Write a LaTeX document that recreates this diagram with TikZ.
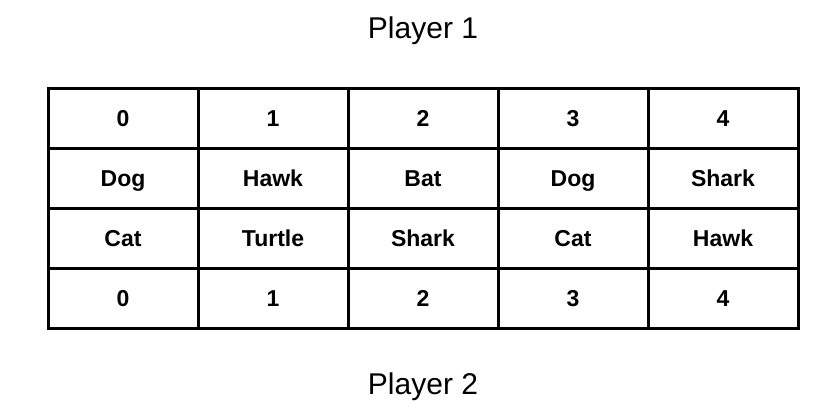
\documentclass[tikz,border=0pt]{standalone}
\usepackage{fontspec}
\setmainfont{Liberation Sans}
\begin{document}
\begin{tikzpicture}[x=1pt,y=-1pt,
  title/.style={anchor=base,inner sep=0pt,font=\fontsize{30}{36}\selectfont},
  cell/.style={anchor=base,inner sep=0pt,font=\fontsize{23}{28}\selectfont\bfseries},
  grid/.style={line width=3pt,line cap=rect}]
\useasboundingbox (0,0) rectangle (827,416);
\node[title] (p1) at (423,38.3) {Player 1};
\node[title] (p2) at (423,394.3) {Player 2};
% grid
\foreach \y in {88,148,208,268,328} \draw[grid] (48,\y) -- (798,\y);
\foreach \x in {48,198,348,498,648,798} \draw[grid] (\x,88) -- (\x,328);
% cells
\def\rowA{0/0,1/1,2/2,3/3,4/4}
\foreach \i/\t in {0/0,1/1,2/2,3/3,4/4}
  \node[cell] (r1c\i) at (123+150*\i,126.3) {\t};
\foreach \i/\t in {0/Dog,1/Hawk,2/Bat,3/Dog,4/Shark}
  \node[cell] (r2c\i) at (123+150*\i,186) {\t};
\foreach \i/\t in {0/Cat,1/Turtle,2/Shark,3/Cat,4/Hawk}
  \node[cell] (r3c\i) at (123+150*\i,246) {\t};
\foreach \i/\t in {0/0,1/1,2/2,3/3,4/4}
  \node[cell] (r4c\i) at (123+150*\i,306.3) {\t};
\end{tikzpicture}
\end{document}
